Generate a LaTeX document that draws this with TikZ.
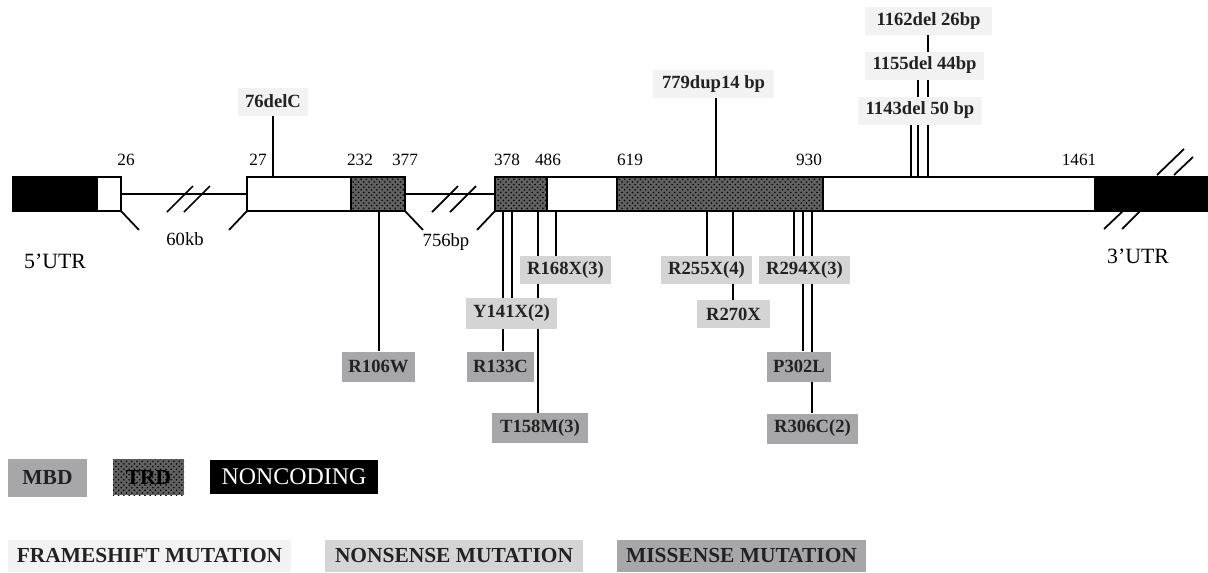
\documentclass[tikz,border=0pt]{standalone}
\usepackage{fontspec}
\setmainfont{Liberation Serif}
\usetikzlibrary{patterns,backgrounds}
\definecolor{fsGray}{HTML}{F2F2F2}
\definecolor{nsGray}{HTML}{D4D4D4}
\definecolor{msGray}{HTML}{A7A7A9}
\definecolor{txtGray}{HTML}{222222}

\begin{document}
\begin{tikzpicture}[
    x=0.02cm, y=-0.02cm,
    bar/.style={draw=black, line width=1pt},
    trd/.style={preaction={fill=black!62}, pattern=crosshatch dots, pattern color=black},
    mut/.style={font=\fontsize{10.6}{12}\bfseries\selectfont, text=txtGray, inner sep=0pt},
    leg/.style={font=\fontsize{12.2}{14}\bfseries\selectfont, text=txtGray, inner sep=0pt},
    num/.style={font=\fontsize{9.8}{12}\selectfont},
    lbl/.style={font=\fontsize{10.6}{12}\selectfont},
    mline/.style={line width=1pt},
]
\def\u{0.02cm}
\useasboundingbox (0,0) rectangle (1208,572);

% gene: noncoding ends, exons, TRD parts
\fill (13,177) rectangle (97,211);
\fill (1095,177) rectangle (1208,211);
\draw[bar] (13,177) rectangle (121,211);
\draw[bar] (97,177) rectangle (121,211);
\draw[bar] (247,177) rectangle (351,211);
\draw[bar, trd] (351,177) rectangle (405,211);
\draw[bar, trd] (495,177) rectangle (547,211);
\draw[bar] (547,177) rectangle (617,211);
\draw[bar, trd] (617,177) rectangle (823,211);
\draw[bar] (823,177) rectangle (1095,211);
\draw[bar] (1095,177) -- (1208,177) (1095,211) -- (1208,211);

% introns with breaks
\draw[bar] (121,194) -- (247,194);
\draw[bar] (405,194) -- (495,194);
\foreach \x in {167,184,432,450} {
    \draw[bar] (\x,212) -- ++(26,-26);
}
\draw[bar] (121,211) -- (139,230) (247,211) -- (229,230);
\draw[bar] (405,211) -- (423,230) (495,211) -- (477,230);

% breaks at the 3' end
\draw[bar] (1157,175) -- (1184,149) (1174,175) -- (1193,157);
\draw[bar] (1104,229) -- (1123,211) (1122,229) -- (1140,211);

% positions
\foreach \x/\t in {126/26, 258/27, 360/232, 405/377, 507/378,
                   548/486, 630/619, 809/930, 1079/1461} {
    \node[num] (p\t) at (\x,160) {\t};
}
\node[lbl] (kb60) at (185,239) {60kb};
\node[lbl] (bp756) at (446,242) {756bp};
\node[font=\fontsize{12.4}{14}\selectfont] (utr5) at (55,261) {5'UTR};
\node[font=\fontsize{12.4}{14}\selectfont] (utr3) at (1138,256) {3'UTR};

% frameshift boxes above the gene
\foreach \nm/\cx/\cy/\w/\t in {
    f76/273/101.5/70/76delC,
    f779/713.5/84/121/779dup14 bp,
    f1143/920/110.5/124/1143del 50 bp,
    f1155/924.5/65.5/119/1155del 44bp,
    f1162/928.5/21/127/1162del 26bp} {
    \node[mut, fill=fsGray, minimum width=\w*\u, minimum height=28*\u]
        (\nm) at (\cx,\cy) {\t};
}

% nonsense boxes
\foreach \nm/\cx/\cy/\w/\h/\t in {
    n168/565.5/270/91/28/R168X(3),
    n141/511.5/313.5/91/31/Y141X(2),
    n255/706.5/270/91/28/R255X(4),
    n270/733.5/314/73/28/R270X,
    n294/804.5/270/91/28/R294X(3)} {
    \node[mut, fill=nsGray, minimum width=\w*\u, minimum height=\h*\u]
        (\nm) at (\cx,\cy) {\t};
}

% missense boxes
\foreach \nm/\cx/\cy/\w/\t in {
    m106/378.5/366.5/73/R106W,
    m133/500.5/366.5/67/R133C,
    m158/540/428/96/T158M(3),
    m302/799/366.5/64/P302L,
    m306/812.5/428.5/91/R306C(2)} {
    \node[mut, fill=msGray, minimum width=\w*\u, minimum height=30*\u]
        (\nm) at (\cx,\cy) {\t};
}

% mutation sites on the gene
\foreach \x/\nm in {273/f76, 716/f779, 911/f1143, 918/f1155, 928/f1162} {
    \coordinate (s\nm) at (\x,177);
}
\foreach \x/\nm in {379/m106, 503/m133, 512/n141, 538/m158, 556/n168,
                    707/n255, 733/n270, 794/n294, 803/m302, 812/m306} {
    \coordinate (s\nm) at (\x,211);
}

% connectors, behind the boxes
\begin{scope}[on background layer]
\foreach \nm in {f76, f779, f1143, f1155, f1162} {
    \draw[mline] (s\nm) -- (s\nm |- \nm.south);
}
\foreach \nm in {m106, m133, n141, m158, n168, n255, n270, n294, m302, m306} {
    \draw[mline] (s\nm) -- (s\nm |- \nm.north);
}
\end{scope}

% legend
\node[leg, fill=msGray, minimum width=79*\u, minimum height=38*\u]
    (legMBD) at (47.5,478) {MBD};
\node[leg, trd, text=black, minimum width=71*\u, minimum height=36*\u]
    (legTRD) at (148.5,477) {TRD};
\node[fill=black, text=white, inner sep=0pt, font=\fontsize{13.6}{15}\selectfont,
    minimum width=168*\u, minimum height=34*\u]
    (legNC) at (294,477) {NONCODING};
\node[leg, fill=fsGray, minimum width=283*\u, minimum height=32*\u]
    (legFS) at (149.5,556) {FRAMESHIFT MUTATION};
\node[leg, fill=nsGray, minimum width=258*\u, minimum height=32*\u]
    (legNS) at (454,556) {NONSENSE MUTATION};
\node[leg, fill=msGray, minimum width=249*\u, minimum height=32*\u]
    (legMS) at (741.5,556) {MISSENSE MUTATION};

\end{tikzpicture}
\end{document}
